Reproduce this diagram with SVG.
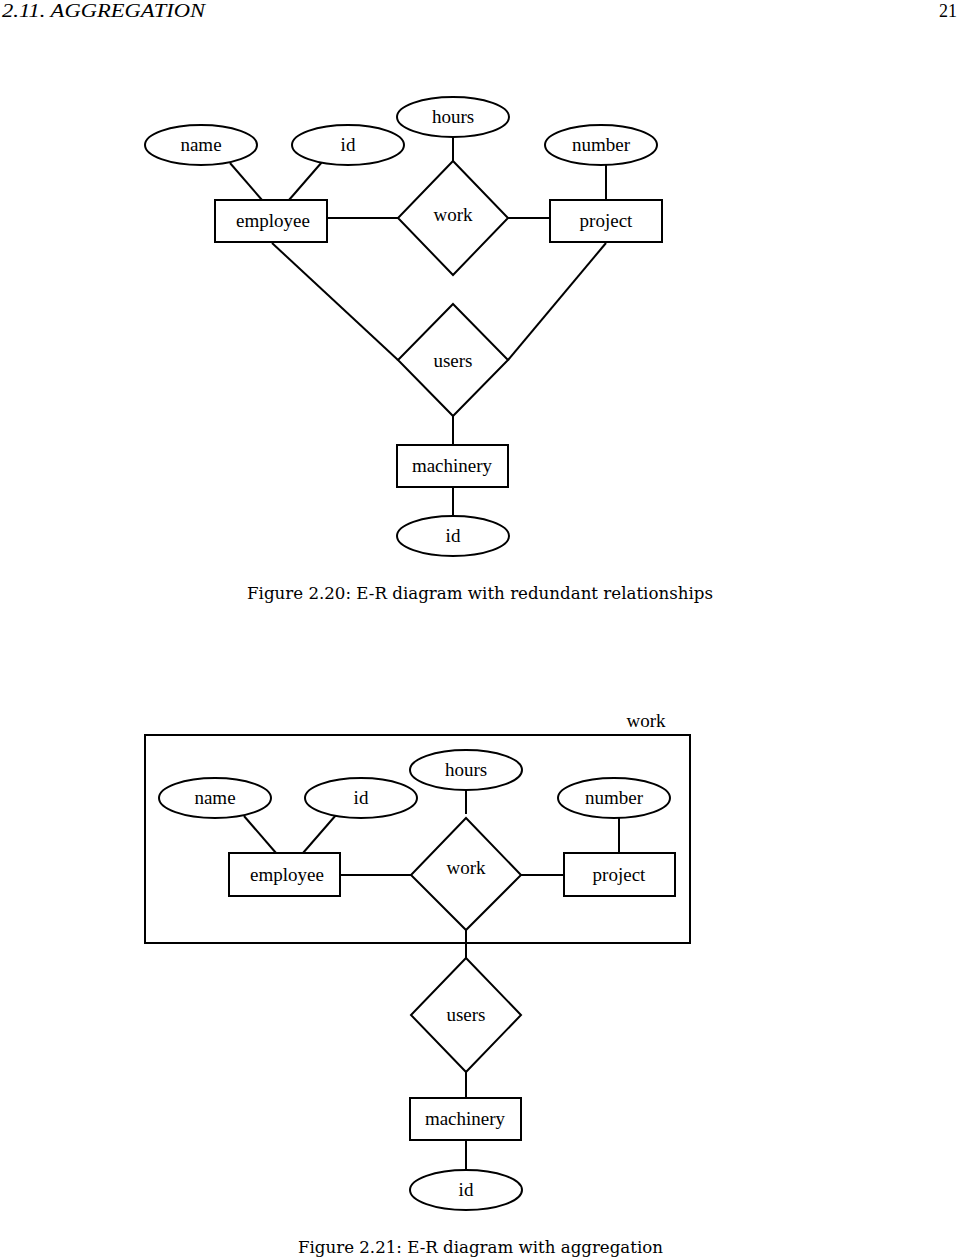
<svg xmlns="http://www.w3.org/2000/svg" width="960" height="1258" viewBox="0 0 960 1258">
<style>
.s{fill:#fff;stroke:#000;stroke-width:2}
.c line{stroke:#000;stroke-width:2}
text{font-family:"Liberation Serif","Times New Roman",serif;font-size:19px;fill:#000}
.m{text-anchor:middle}
.cap{font-family:"DejaVu Serif","Liberation Serif",serif;font-size:17px}
.hd{font-size:18px}
</style>
<rect width="960" height="1258" fill="#fff"/>
<text class="hd" x="2" y="17" font-style="italic" textLength="203" lengthAdjust="spacingAndGlyphs">2.11.  AGGREGATION</text>
<text class="hd" x="957" y="17" text-anchor="end">21</text>

<!-- Figure 2.20 -->
<g class="c" id="connectors-fig1">
<line x1="230" y1="163" x2="262" y2="200"/>
<line x1="322" y1="162" x2="289" y2="200"/>
<line x1="453" y1="137" x2="453" y2="161"/>
<line x1="606" y1="165" x2="606" y2="200"/>
<line x1="327" y1="218" x2="398" y2="218"/>
<line x1="508" y1="218" x2="550" y2="218"/>
<line x1="272" y1="243" x2="398" y2="360"/>
<line x1="606" y1="243" x2="508" y2="360"/>
<line x1="453" y1="416" x2="453" y2="445"/>
<line x1="453" y1="487" x2="453" y2="516"/>
</g>
<g id="f1-name"><ellipse class="s" cx="201" cy="145" rx="56" ry="20"/><text class="m" x="201" y="151">name</text></g>
<g id="f1-id"><ellipse class="s" cx="348" cy="145" rx="56" ry="20"/><text class="m" x="348" y="151">id</text></g>
<g id="f1-hours"><ellipse class="s" cx="453" cy="117" rx="56" ry="20"/><text class="m" x="453" y="123">hours</text></g>
<g id="f1-number"><ellipse class="s" cx="601" cy="145" rx="56" ry="20"/><text class="m" x="601" y="151">number</text></g>
<g id="f1-employee"><rect class="s" x="215" y="200" width="112" height="42"/><text class="m" x="273" y="227">employee</text></g>
<g id="f1-work"><polygon class="s" points="453,161 508,218 453,275 398,218"/><text class="m" x="453" y="221">work</text></g>
<g id="f1-project"><rect class="s" x="550" y="200" width="112" height="42"/><text class="m" x="606" y="227">project</text></g>
<g id="f1-users"><polygon class="s" points="453,304 508,360 453,416 398,360"/><text class="m" x="453" y="367">users</text></g>
<g id="f1-machinery"><rect class="s" x="397" y="445" width="111" height="42"/><text class="m" x="452" y="472">machinery</text></g>
<g id="f1-mid"><ellipse class="s" cx="453" cy="536" rx="56" ry="20"/><text class="m" x="453" y="542">id</text></g>
<text class="cap" x="247" y="599" textLength="466" lengthAdjust="spacingAndGlyphs">Figure 2.20: E-R diagram with redundant relationships</text>

<!-- Figure 2.21 -->
<g id="aggregate"><rect x="145" y="735" width="545" height="208" fill="none" stroke="#000" stroke-width="2"/><text class="m" x="646" y="727">work</text></g>
<g class="c" id="connectors-fig2">
<line x1="244" y1="816" x2="276" y2="853"/>
<line x1="336" y1="815" x2="303" y2="853"/>
<line x1="466" y1="790" x2="466" y2="814"/>
<line x1="619" y1="818" x2="619" y2="853"/>
<line x1="340" y1="875" x2="411" y2="875"/>
<line x1="521" y1="875" x2="564" y2="875"/>
<line x1="466" y1="930" x2="466" y2="958"/>
<line x1="466" y1="1072" x2="466" y2="1098"/>
<line x1="466" y1="1140" x2="466" y2="1170"/>
</g>
<g id="f2-name"><ellipse class="s" cx="215" cy="798" rx="56" ry="20"/><text class="m" x="215" y="804">name</text></g>
<g id="f2-id"><ellipse class="s" cx="361" cy="798" rx="56" ry="20"/><text class="m" x="361" y="804">id</text></g>
<g id="f2-hours"><ellipse class="s" cx="466" cy="770" rx="56" ry="20"/><text class="m" x="466" y="776">hours</text></g>
<g id="f2-number"><ellipse class="s" cx="614" cy="798" rx="56" ry="20"/><text class="m" x="614" y="804">number</text></g>
<g id="f2-employee"><rect class="s" x="229" y="853" width="111" height="43"/><text class="m" x="287" y="881">employee</text></g>
<g id="f2-work"><polygon class="s" points="466,818 521,875 466,930 411,875"/><text class="m" x="466" y="874">work</text></g>
<g id="f2-project"><rect class="s" x="564" y="853" width="111" height="43"/><text class="m" x="619" y="881">project</text></g>
<g id="f2-users"><polygon class="s" points="466,958 521,1015 466,1072 411,1015"/><text class="m" x="466" y="1021">users</text></g>
<g id="f2-machinery"><rect class="s" x="410" y="1098" width="111" height="42"/><text class="m" x="465" y="1125">machinery</text></g>
<g id="f2-mid"><ellipse class="s" cx="466" cy="1190" rx="56" ry="20"/><text class="m" x="466" y="1196">id</text></g>
<text class="cap" x="298" y="1253" textLength="365" lengthAdjust="spacingAndGlyphs">Figure 2.21: E-R diagram with aggregation</text>
</svg>
